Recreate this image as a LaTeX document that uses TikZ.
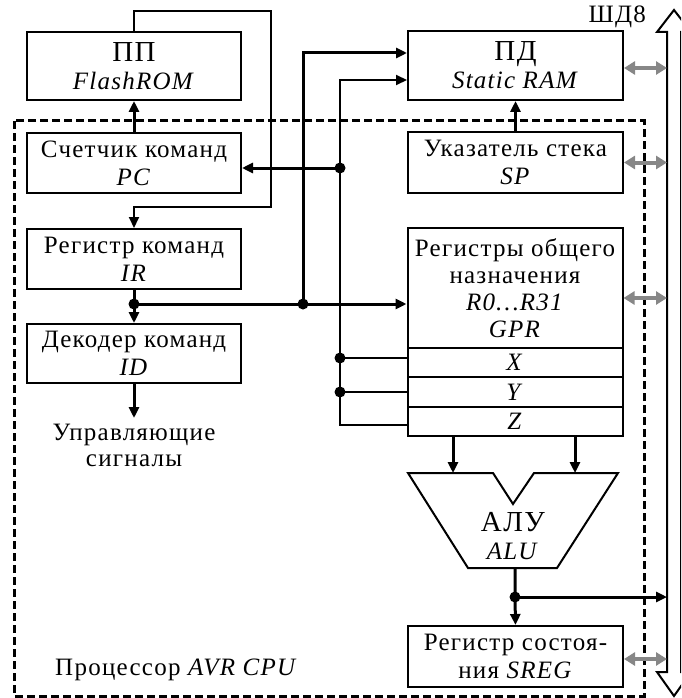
\documentclass[tikz,border=0pt]{standalone}
\usepackage{fontspec}
\setmainfont{Liberation Serif}[LetterSpace=5]
\usetikzlibrary{arrows.meta}
\definecolor{busgray}{RGB}{135,135,135}
\tikzset{
  blk/.style={draw, line width=2pt, minimum width=214pt, inner sep=0pt, align=center,
    font=\fontsize{25}{28}\selectfont},
  ln/.style={line width=2pt},
  thk/.style={line width=3pt},
  arr/.style={-{Triangle[length=11pt,width=10pt]}},
  garr/.style={{Triangle[length=11pt,width=13pt]}-{Triangle[length=11pt,width=13pt]},
    line width=4pt, draw=busgray},
  jdot/.style={circle, fill, inner sep=0pt, minimum size=11pt},
  cpub/.style={line width=3pt, dash pattern=on 8pt off 4pt},
  txt/.style={inner sep=0pt, align=center, font=\fontsize{25}{26}\selectfont},
}
\newcommand{\bigtxt}[1]{{\fontsize{29}{28}\selectfont #1}}
\begin{document}
\begin{tikzpicture}[x=1pt,y=-1pt]
\useasboundingbox (0,0) rectangle (681,698);
% CPU boundary
\draw[cpub] (14,121) rectangle (644,696);
% blocks
\node[blk, minimum height=68pt] (pp) at (134,66) {\bigtxt{ПП}\\\textit{FlashROM}};
\node[blk, minimum height=60pt] (pc) at (134,163) {Счетчик команд\\\textit{PC}};
\node[blk, minimum height=60pt] (ir) at (134,259) {Регистр команд\\\textit{IR}};
\node[blk, minimum height=59pt] (id) at (134,353.5) {Декодер команд\\\textit{ID}};
\node[txt] (ctl) at (134,445) {Управляющие\\сигналы};
\node[blk, minimum width=215pt, minimum height=69pt] (pd) at (515.5,65.5) {\bigtxt{ПД}\\\textit{Static RAM}};
\node[blk, minimum width=215pt, minimum height=61pt] (sp) at (515.5,162.5) {Указатель стека\\\textit{SP}};
\node[blk, minimum width=215pt, minimum height=120pt, font=\fontsize{25}{27}\selectfont] (gpr) at (515,288) {Регистры общего\\назначения\\\textit{R0…R31}\\\textit{GPR}};
\node[blk, minimum width=215pt, minimum height=29.5pt] (xr) at (515,362.5) {\textit{X}};
\node[blk, minimum width=215pt, minimum height=30pt] (yr) at (515,392) {\textit{Y}};
\node[blk, minimum width=215pt, minimum height=29pt] (zr) at (515,421.5) {\textit{Z}};
\node[blk, minimum width=215pt, minimum height=61pt] (sreg) at (515.5,656.5) {Регистр состоя-\\ния \textit{SREG}};
% ALU
\draw[line width=2pt, line join=miter] (408,473) -- (493,473) -- (513,504) -- (534,473) -- (618,473) -- (557,568) -- (468,568) -- cycle;
\node[txt, font=\fontsize{25}{28}\selectfont] (alu) at (513,536) {\bigtxt{АЛУ}\\\textit{ALU}};
\coordinate (a1) at (453,473);
\coordinate (a2) at (575,473);
\coordinate (aluout) at (515,568);
% bus
\begin{scope}
\clip (0,0) rectangle (681,698);
\draw[line width=2pt, line join=miter] (667,32) -- (657,32) -- (674,10) -- (691,32) -- (681,32) -- (681,672) -- (691,672) -- (674,696) -- (657,672) -- (667,672) -- cycle;
\end{scope}
\coordinate (busL) at (667,0);
\node[txt, anchor=east] (shd) at (646,17) {ШД8};
\node[txt, anchor=west] (cpulbl) at (55,670) {Процессор \textit{AVR CPU}};
% connectors
\draw[thk,arr] (pc.north) -- (pp.south);
\draw[thk,arr] (sp.north) -- (pd.south);
\coordinate (l1) at (134,11);
\coordinate (l2) at (271,11);
\coordinate (l3) at (271,207);
\coordinate (l4) at (134,207);
\draw[ln,arr] (pp.north) -- (l1) -- (l2) -- (l3) -- (l4) -- (ir.north);
\node[jdot] (dir) at (134,304) {};
\node[jdot] (dbus) at (303,304) {};
\draw[thk,arr] (ir.south) -- (id.north);
\draw[thk,arr] (dir.center) -- (dir.center -| gpr.west);
\coordinate (t1) at (303,53);
\draw[thk,arr] (dbus.center) -- (t1) -- (t1 -| pd.west);
\node[jdot] (dpc) at (340,168) {};
\coordinate (t2) at (340,80);
\draw[ln,arr] (dpc.center) -- (t2) -- (t2 -| pd.west);
\draw[thk,arr] (dpc.center) -- (dpc.center -| pc.east);
\node[jdot] (dx) at (340,358) {};
\node[jdot] (dy) at (340,392) {};
\coordinate (dz) at (340,425);
\draw[ln] (dpc.center) -- (dz) -- (dz -| zr.west);
\draw[ln] (dx.center) -- (dx.center -| xr.west);
\draw[ln] (dy.center) -- (dy.center -| yr.west);
\coordinate (ctlin) at (134,418);
\draw[thk,arr] (id.south) -- (ctlin);
\draw[thk,arr] (zr.south -| a1) -- (a1);
\draw[thk,arr] (zr.south -| a2) -- (a2);
\node[jdot] (dalu) at (515,597) {};
\draw[thk,arr] (aluout) -- (dalu.center) -- (sreg.north);
\draw[thk,arr] (dalu.center) -- (dalu.center -| busL);
% gray bus links
\draw[garr] ([yshift=-2.5pt]pd.east) -- ([yshift=-2.5pt]pd.east -| busL);
\draw[garr] (sp.east) -- (sp.east -| busL);
\draw[garr] ([yshift=-10pt]gpr.east) -- ([yshift=-10pt]gpr.east -| busL);
\draw[garr] ([yshift=-2.5pt]sreg.east) -- ([yshift=-2.5pt]sreg.east -| busL);
\end{tikzpicture}
\end{document}
